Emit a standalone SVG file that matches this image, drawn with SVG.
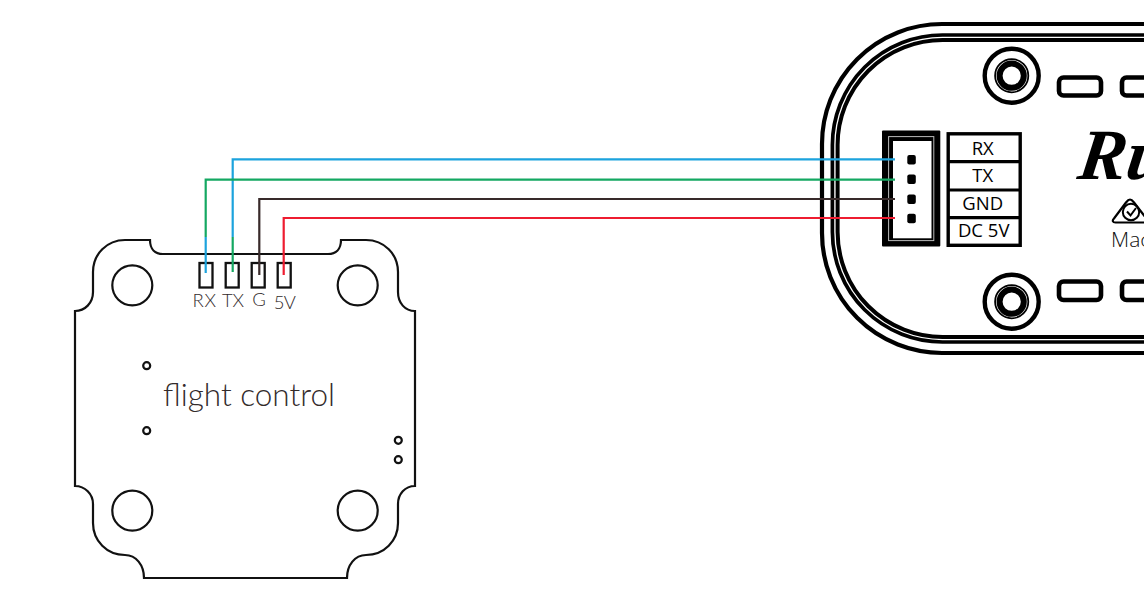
<svg xmlns="http://www.w3.org/2000/svg" width="1144" height="614" viewBox="0 0 1144 614">
<style>
.o{fill:none;stroke:#111;stroke-width:2.2}
.pad{fill:none;stroke:#111;stroke-width:2.3}
.sm{fill:none;stroke:#111;stroke-width:2.2}
.fc{font-family:"Lato","Open Sans",sans-serif;font-weight:300;fill:#332b2b}
.k{fill:none;stroke:#000}
.lb{font-family:"Open Sans","Noto Sans",sans-serif;font-size:18.5px;fill:#000;text-anchor:middle}
.w{fill:none;stroke-width:2.2}
.slot{fill:#fff;stroke:#000;stroke-width:4.6}
</style>
<defs>
<g id="jack">
<circle class="k" r="27" stroke-width="4.400"/>
<circle class="k" r="16.600" stroke-width="1.800"/>
<circle class="k" r="12.100" stroke-width="6"/>
</g>
</defs>
<rect width="1144" height="614" fill="#fff"/>
<g id="flight-controller">
<path class="o" d="M75 311C85 311 93 303 93 292V272C93 254 107 240 125 240H150C150 249 155 254 163 254H328C336 254 341 249 341 240H366C384 240 398 254 398 272V292C398 303 405 311 415 311V486C405 486 398 494 398 504V523C398 541 384 555 366 555C355 555 347 565 347 578H144C144 565 136 555 125 555C107 555 93 541 93 523V504C93 494 85 486 75 486Z"/>
<circle class="o" cx="132.300" cy="285.300" r="20"/>
<circle class="o" cx="357.700" cy="285.300" r="20"/>
<circle class="o" cx="132.300" cy="510.700" r="20"/>
<circle class="o" cx="357.700" cy="510.700" r="20"/>
<circle class="sm" cx="146.700" cy="365.700" r="3.500"/>
<circle class="sm" cx="146.700" cy="430.700" r="3.500"/>
<circle class="sm" cx="398.300" cy="440.300" r="3.500"/>
<circle class="sm" cx="398.300" cy="459.700" r="3.500"/>
<rect class="pad" x="199.500" y="263" width="13" height="24.500"/>
<rect class="pad" x="225.700" y="263" width="13" height="24.500"/>
<rect class="pad" x="251.700" y="263" width="13" height="24.500"/>
<rect class="pad" x="277.700" y="263" width="13" height="24.500"/>
<text class="fc" x="192.500" y="306.700" font-size="18.500" textLength="23.500">RX</text>
<text class="fc" x="222" y="306.700" font-size="18.500" textLength="22">TX</text>
<text class="fc" x="252.200" y="306.300" font-size="18.500">G</text>
<text class="fc" x="273.800" y="309" font-size="18.500" textLength="22">5V</text>
<text class="fc" x="163" y="405.500" font-size="31.500" textLength="172">flight control</text>
</g>
<g id="receiver">
<rect class="k" x="822" y="24" width="520" height="329" rx="120" ry="120" stroke-width="4.200"/>
<rect class="k" x="832.400" y="35" width="500" height="307" rx="110" ry="110" stroke-width="3.700"/>
<rect class="k" x="837.600" y="40" width="490" height="297" rx="105" ry="105" stroke-width="4"/>
<use href="#jack" x="1011.700" y="75.700"/>
<use href="#jack" x="1011.700" y="301.700"/>
<rect class="slot" x="1059" y="77.500" width="42" height="18" rx="4.500"/>
<rect class="slot" x="1122" y="77.500" width="42" height="18" rx="4.500"/>
<rect class="slot" x="1059" y="281.500" width="42" height="18.500" rx="4.500"/>
<rect class="slot" x="1122" y="281.500" width="42" height="18.500" rx="4.500"/>
<text transform="translate(1076 179) skewX(-8)" font-family="Liberation Serif,serif" font-weight="700" font-style="italic" font-size="72" fill="#000">Ru</text>
<path d="M1130 199.500C1131.500 199.500 1132.500 200.500 1134 202.500L1146 218C1148 221 1147 222.500 1144 222.500H1115.500C1112.500 222.500 1112 220.500 1114 218.500L1126 202.500C1127.500 200.500 1128.500 199.500 1130 199.500Z" fill="none" stroke="#000" stroke-width="2.200"/>
<circle cx="1131" cy="212" r="8.200" fill="none" stroke="#000" stroke-width="2"/>
<path d="M1127 211.500L1130.500 215.500L1136 208" fill="none" stroke="#000" stroke-width="2"/>
<text x="1111" y="246.700" font-family="Open Sans,sans-serif" font-size="21" fill="#111" font-weight="300">Mac</text>
</g>
<g id="connector">
<rect x="882" y="130.500" width="58.300" height="116" rx="1" fill="#000"/>
<rect x="888.600" y="136.600" width="45.200" height="104" fill="none" stroke="#bbb" stroke-width="1"/>
<rect x="893" y="141" width="38.500" height="97.300" fill="#fff"/>
<rect x="907.300" y="155" width="8.500" height="9.500" rx="2" fill="#000"/>
<rect x="907.300" y="174.500" width="8.500" height="9.500" rx="2" fill="#000"/>
<rect x="907.300" y="194.500" width="8.500" height="9.500" rx="2" fill="#000"/>
<rect x="907.300" y="213.800" width="8.500" height="9.500" rx="2" fill="#000"/>
</g>
<g id="pin-labels">
<rect x="948.200" y="133.800" width="72" height="111.500" fill="#fff" stroke="#000" stroke-width="3.400"/>
<path d="M948 161.700H1020M948 190H1020M948 217.700H1020" fill="none" stroke="#000" stroke-width="3.200"/>
<text class="lb" x="982.700" y="155">RX</text>
<text class="lb" x="982.700" y="182.300">TX</text>
<text class="lb" x="982.700" y="210">GND</text>
<text class="lb" x="983.700" y="236.700">DC 5V</text>
</g>
<g id="connectors">
<path class="w" stroke="#1ca3dd" d="M895 159.300H232.700V237"/>
<path class="w" stroke="#14a862" d="M895 179.700H205.700V237"/>
<path class="w" stroke="#1ca3dd" d="M205.700 237V273"/>
<path class="w" stroke="#14a862" d="M232.700 237V272"/>
<path class="w" stroke="#382a2a" d="M895 199H259.300V275"/>
<path class="w" stroke="#ee1c30" d="M895 218H283.700V275"/>
</g>
</svg>
